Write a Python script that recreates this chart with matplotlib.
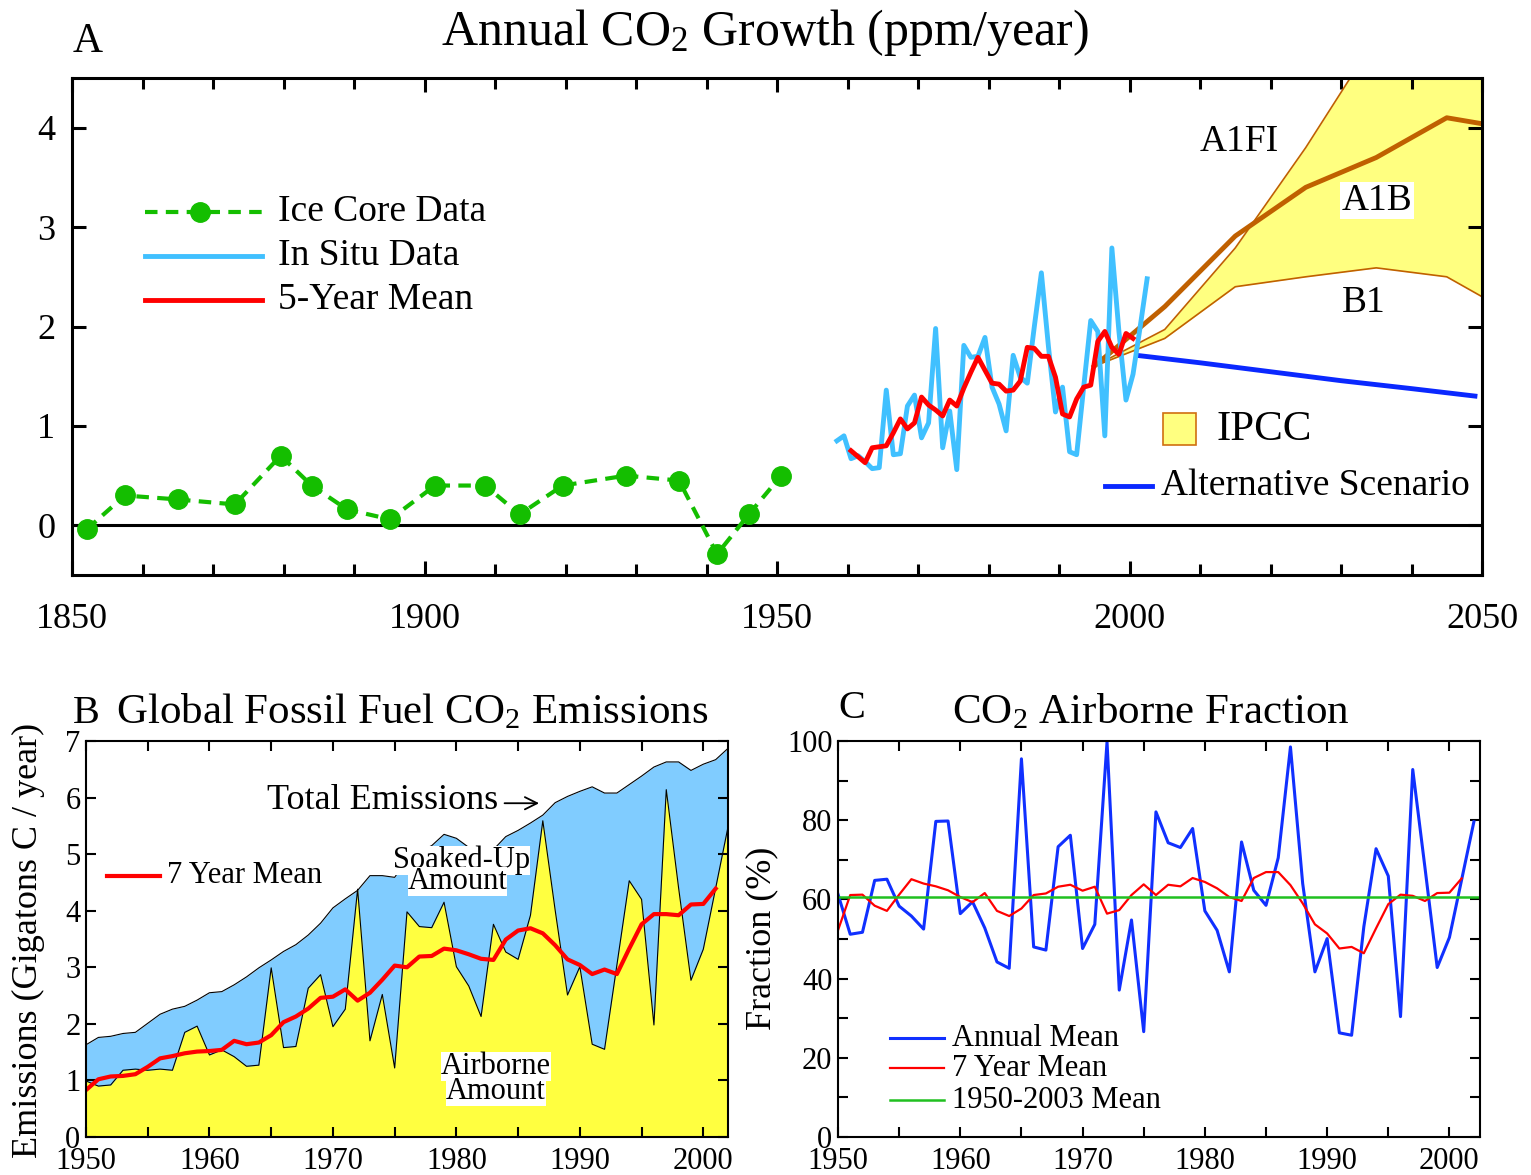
import numpy as np
import matplotlib
matplotlib.use("Agg")
import matplotlib.pyplot as plt
from matplotlib.patches import Rectangle
from matplotlib.ticker import MultipleLocator

plt.rcParams['font.family'] = ['Liberation Serif', 'DejaVu Serif']
plt.rcParams['mathtext.fontset'] = 'custom'
plt.rcParams['mathtext.rm'] = 'Liberation Serif'
plt.rcParams['mathtext.it'] = 'Liberation Serif:italic'

# ---------------- panel A : annual CO2 growth (ppm/year)
ice_year = [1852.1, 1857.5, 1865.0, 1873.1, 1879.6, 1884.0, 1889.0, 1895.1, 1901.5,
            1908.6, 1913.5, 1919.6, 1928.6, 1936.1, 1941.5, 1946.0, 1950.6]
ice_growth = [-0.04, 0.30, 0.26, 0.21, 0.70, 0.40, 0.16, 0.06, 0.40,
              0.40, 0.11, 0.40, 0.50, 0.45, -0.29, 0.11, 0.50]

insitu_year = list(range(1958, 2003))
insitu_growth = [0.85, 0.90, 0.67, 0.70, 0.64, 0.57, 0.58, 1.36, 0.71, 0.72,
                 1.20, 1.31, 0.88, 1.03, 1.98, 0.78, 1.15, 0.56, 1.81, 1.69,
                 1.70, 1.89, 1.39, 1.22, 0.95, 1.71, 1.49, 1.43, 2.00, 2.54,
                 1.80, 1.14, 1.39, 0.74, 0.71, 1.39, 2.06, 1.95, 0.90, 2.79,
                 1.95, 1.26, 1.52, 1.99, 2.48]

mean5_year = list(range(1960, 2001))
mean5_growth = [0.75, 0.69, 0.63, 0.78, 0.79, 0.80, 0.93, 1.07, 0.97, 1.03,
                1.29, 1.21, 1.16, 1.10, 1.26, 1.20, 1.38, 1.54, 1.69, 1.56,
                1.43, 1.42, 1.35, 1.36, 1.45, 1.79, 1.78, 1.70, 1.70, 1.49,
                1.12, 1.09, 1.27, 1.39, 1.41, 1.85, 1.95, 1.79, 1.72, 1.93,
                1.88]

ipcc_year = [1995, 2005, 2015, 2025, 2035, 2045, 2055]
a1fi = [1.60, 1.97, 2.79, 3.80, 4.91, 5.90, 6.80]
a1b = [1.60, 2.20, 2.91, 3.40, 3.70, 4.10, 3.98]
b1 = [1.60, 1.88, 2.40, 2.50, 2.59, 2.50, 2.10]

alt_year = [2001, 2010, 2020, 2030, 2040, 2049]
alt_growth = [1.71, 1.635, 1.545, 1.455, 1.375, 1.30]

# ---------------- panel B : fossil fuel emissions (GtC/yr)
emis_year = list(range(1950, 2003))
total_emis = [1.63, 1.76, 1.78, 1.83, 1.85, 2.01, 2.17, 2.26, 2.31, 2.42,
              2.55, 2.57, 2.69, 2.83, 2.99, 3.13, 3.28, 3.40, 3.57, 3.78,
              4.05, 4.21, 4.36, 4.62, 4.62, 4.59, 4.90, 5.05, 5.15, 5.35,
              5.28, 5.12, 5.05, 5.08, 5.31, 5.42, 5.55, 5.69, 5.91, 6.02,
              6.11, 6.19, 6.08, 6.08, 6.23, 6.38, 6.54, 6.63, 6.63, 6.48,
              6.59, 6.67, 6.87]
airborne = [0.99, 0.90, 0.92, 1.18, 1.20, 1.18, 1.20, 1.18, 1.85, 1.96,
            1.45, 1.54, 1.42, 1.25, 1.27, 2.99, 1.58, 1.60, 2.63, 2.87,
            1.95, 2.26, 4.38, 1.70, 2.52, 1.22, 3.98, 3.72, 3.70, 4.15,
            3.01, 2.67, 2.13, 3.76, 3.27, 3.14, 3.92, 5.59, 4.01, 2.51,
            3.01, 1.64, 1.55, 3.04, 4.53, 4.20, 1.98, 6.14, 4.40, 2.77,
            3.32, 4.40, 5.48]
mean7_year = list(range(1950, 2002))
mean7_airborne = [0.83, 1.02, 1.07, 1.08, 1.11, 1.24, 1.39, 1.43, 1.48, 1.51,
                  1.52, 1.54, 1.70, 1.64, 1.67, 1.80, 2.03, 2.13, 2.27, 2.46,
                  2.48, 2.61, 2.41, 2.55, 2.78, 3.03, 3.00, 3.19, 3.20, 3.33,
                  3.30, 3.23, 3.15, 3.13, 3.49, 3.65, 3.69, 3.60, 3.39, 3.14,
                  3.04, 2.88, 2.96, 2.88, 3.33, 3.76, 3.94, 3.94, 3.92, 4.11,
                  4.12, 4.39]

# ---------------- panel C : airborne fraction (%)
frac_year = list(range(1950, 2003))
frac_annual = [61.3, 51.2, 51.7, 64.8, 65.1, 58.3, 55.8, 52.5, 79.7, 79.8,
               56.4, 59.4, 52.8, 44.2, 42.6, 95.5, 48.0, 47.2, 73.3, 76.2,
               47.6, 53.7, 99.8, 37.1, 54.8, 26.6, 82.1, 74.3, 73.1, 77.9,
               57.1, 52.2, 41.7, 74.5, 62.3, 58.5, 70.5, 98.5, 64.0, 41.7,
               50.1, 26.3, 25.7, 53.1, 72.8, 65.9, 30.4, 92.8, 68.0, 42.8,
               50.4, 65.0, 79.6]
frac_mean7 = [52.2, 61.1, 61.2, 58.4, 57.1, 61.2, 65.1, 64.0, 63.3, 62.3,
              60.6, 59.3, 61.6, 57.1, 55.8, 57.7, 61.1, 61.5, 63.2, 63.7,
              62.2, 63.2, 56.4, 57.3, 61.1, 63.8, 61.1, 63.7, 63.3, 65.4,
              64.4, 62.8, 60.6, 59.6, 65.4, 66.9, 66.9, 63.6, 59.0, 53.7,
              51.4, 47.6, 48.0, 46.4, 52.7, 58.8, 61.2, 60.9, 59.6, 61.6,
              61.7, 65.3]
frac_longmean = 60.6

W, H = 1531, 1175
fig = plt.figure(figsize=(W / 100, H / 100), dpi=100)


def key(ax, x0, x1, y, xt, label, size, **style):
    # hand made legend entry, in data coordinates
    ax.plot([x0, x1], [y, y], clip_on=False, **style)
    ax.text(xt, y, label, fontsize=size, va='center', ha='left')


def style_axes(ax, lw, size, pad):
    for s in ax.spines.values():
        s.set_linewidth(lw)
    ax.tick_params(which='both', direction='in', top=True, right=True,
                   width=lw, labelsize=size, pad=pad)


# ================= A
axA = fig.add_axes([72 / W, 1 - 575 / H, 1410 / W, 497 / H])
axA.fill_between(ipcc_year, b1, a1fi, color='#FFFF80', lw=0, zorder=1)
axA.plot(ipcc_year, a1fi, color='#C06000', lw=1.2, zorder=2)
axA.plot(ipcc_year, b1, color='#C06000', lw=1.2, zorder=2)
axA.plot(ipcc_year, a1b, color='#C06000', lw=3.5, zorder=2)
axA.plot(alt_year, alt_growth, color='#0A28FF', lw=3.5, zorder=3)
axA.axhline(0, color='black', lw=2.2, zorder=3)
axA.plot(ice_year, ice_growth, color='#14BE00', ls='--', dashes=(3, 2), lw=3,
         marker='o', ms=14, zorder=4)
axA.plot(np.array(insitu_year) + 0.5, insitu_growth, color='#40C0FF', lw=3.5, zorder=4)
axA.plot(np.array(mean5_year) + 0.5, mean5_growth, color='#FF0000', lw=3.5, zorder=5)

axA.set_xlim(1850, 2050)
axA.set_ylim(-0.5, 4.5)
axA.xaxis.set_major_locator(MultipleLocator(50))
axA.xaxis.set_minor_locator(MultipleLocator(10))
axA.yaxis.set_major_locator(MultipleLocator(1))
style_axes(axA, 2.2, 26, 20)
axA.tick_params(axis='y', pad=12)
axA.tick_params(which='major', length=10)
axA.tick_params(which='minor', length=8)

key(axA, 1860.35, 1876.95, 3.15, 1879.2, 'Ice Core Data', 27,
    color='#14BE00', ls='--', dashes=(3, 2), lw=3)
axA.plot([1868.1], [3.15], 'o', color='#14BE00', ms=14, clip_on=False)
key(axA, 1860.35, 1876.95, 2.71, 1879.2, 'In Situ Data', 27, color='#40C0FF', lw=3.5)
key(axA, 1860.35, 1876.95, 2.27, 1879.2, '5-Year Mean', 27, color='#FF0000', lw=3.5)

axA.add_patch(Rectangle((2004.75, 0.81), 4.65, 0.32, facecolor='#FFFF80',
                        edgecolor='#D07010', lw=1.2, zorder=6))
axA.text(2012.4, 0.96, 'IPCC', fontsize=31, va='center', ha='left')
key(axA, 1996.5, 2003.2, 0.40, 2004.5, 'Alternative Scenario', 27,
    color='#0A28FF', lw=3.5)
axA.text(2010.0, 3.86, 'A1FI', fontsize=27, va='center', ha='left')
axA.text(2030.1, 3.27, 'A1B', fontsize=27, va='center', ha='left',
         bbox=dict(facecolor='white', edgecolor='none', pad=1))
axA.text(2030.1, 2.24, 'B1', fontsize=27, va='center', ha='left')

fig.text(0.4997, 1 - 45 / H, 'Annual CO$_2$ Growth (ppm/year)', fontsize=36,
         ha='center', va='baseline')
fig.text(73 / W, 1 - 52 / H, 'A', fontsize=30, ha='left', va='baseline')

# ================= B
axB = fig.add_axes([86 / W, 1 - 1137 / H, 642 / W, 396 / H])
axB.fill_between(emis_year, 0, total_emis, color='#80CCFF', lw=0)
axB.fill_between(emis_year, 0, airborne, color='#FFFF40', lw=0)
axB.plot(emis_year, total_emis, color='black', lw=0.8)
axB.plot(emis_year, airborne, color='black', lw=0.8)
axB.plot(mean7_year, mean7_airborne, color='#FF0000', lw=3)
axB.set_xlim(1950, 2002)
axB.set_ylim(0, 7)
axB.xaxis.set_major_locator(MultipleLocator(10))
axB.xaxis.set_minor_locator(MultipleLocator(5))
axB.yaxis.set_major_locator(MultipleLocator(1))
style_axes(axB, 1.5, 22, 4)
axB.tick_params(axis='x', pad=7)
axB.tick_params(which='both', length=7)

axB.text(1964.68, 5.95, 'Total Emissions', fontsize=26, va='center', ha='left')
axB.annotate('', xy=(1986.7, 5.90), xytext=(1983.9, 5.90),
             arrowprops=dict(arrowstyle='->', lw=1.3, color='black',
                             mutation_scale=22, shrinkA=0, shrinkB=0))
axB.text(1980.4, 4.89, 'Soaked-Up', fontsize=22, va='center', ha='center',
         bbox=dict(facecolor='white', edgecolor='none', pad=0))
axB.text(1980.1, 4.51, 'Amount', fontsize=22, va='center', ha='center',
         bbox=dict(facecolor='white', edgecolor='none', pad=0))
axB.text(1983.2, 1.25, 'Airborne', fontsize=22, va='center', ha='center',
         bbox=dict(facecolor='white', edgecolor='none', pad=0))
axB.text(1983.2, 0.80, 'Amount', fontsize=22, va='center', ha='center',
         bbox=dict(facecolor='white', edgecolor='none', pad=0))
key(axB, 1951.7, 1956.0, 4.62, 1956.6, '7 Year Mean', 22, color='#FF0000', lw=3)

fig.text(73 / W, 1 - 723 / H, 'B', fontsize=29, ha='left', va='baseline')
fig.text(116 / W, 1 - 723 / H, 'Global Fossil Fuel CO$_2$ Emissions', fontsize=31,
         ha='left', va='baseline')
fig.text(28 / W, 1 - 940 / H, 'Emissions (Gigatons C / year)', fontsize=26,
         rotation=90, ha='center', va='center')

# ================= C
axC = fig.add_axes([838 / W, 1 - 1137 / H, 642 / W, 396 / H])
axC.plot(frac_year, frac_annual, color='#1030FF', lw=2.2)
axC.plot(mean7_year, frac_mean7, color='#FF0000', lw=1.6)
axC.axhline(frac_longmean, color='#20C020', lw=1.8)
axC.set_xlim(1950, 2002.5)
axC.set_ylim(0, 100)
axC.xaxis.set_major_locator(MultipleLocator(10))
axC.xaxis.set_minor_locator(MultipleLocator(5))
axC.yaxis.set_major_locator(MultipleLocator(20))
axC.yaxis.set_minor_locator(MultipleLocator(10))
style_axes(axC, 1.5, 22, 4)
axC.tick_params(axis='x', pad=7)
axC.tick_params(which='both', length=7)

key(axC, 1954.23, 1958.64, 25.0, 1959.3, 'Annual Mean', 22, color='#1030FF', lw=2.2)
key(axC, 1954.23, 1958.64, 17.4, 1959.3, '7 Year Mean', 22, color='#FF0000', lw=1.6)
key(axC, 1954.23, 1958.64, 9.3, 1959.3, '1950-2003 Mean', 22, color='#20C020', lw=1.8)

fig.text(838 / W, 1 - 718 / H, 'C', fontsize=29, ha='left', va='baseline')
fig.text(1151 / W, 1 - 723 / H, 'CO$_2$ Airborne Fraction', fontsize=31,
         ha='center', va='baseline')
fig.text(762 / W, 1 - 938 / H, 'Fraction (%)', fontsize=26,
         rotation=90, ha='center', va='center')

fig.savefig('out.png', dpi=100)
